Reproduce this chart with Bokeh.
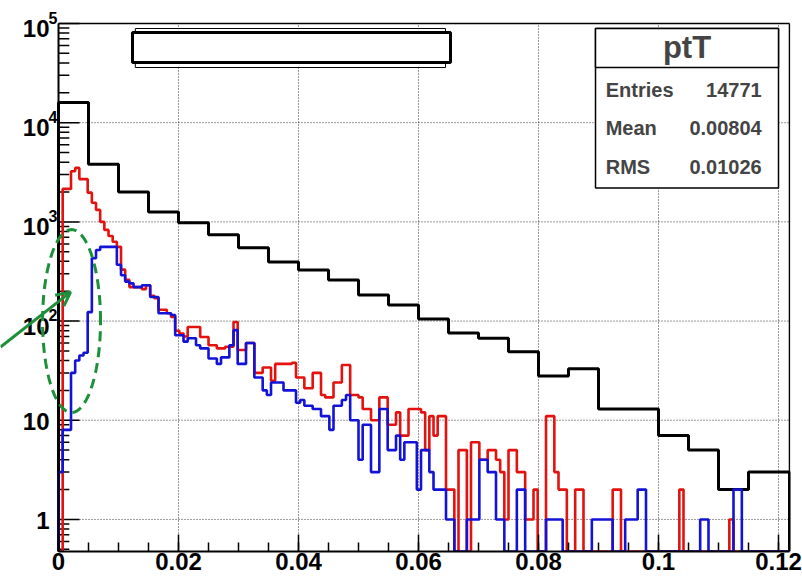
import numpy as np
from bokeh.plotting import figure
from bokeh.models import (BoxAnnotation, Label, Arrow, OpenHead, FixedTicker, Range1d)
from bokeh.core.properties import value
from bokeh.embed import file_html
from bokeh.resources import INLINE

# ---------------- data ----------------
BLACK_BIN = 0.005
black_counts = [16000, 3800, 2000, 1260, 980, 740, 550, 394, 327, 259, 183, 145, 105,
                76, 67, 49, 28, 33, 13, 13, 7, 5, 2, 3, 3]

FINE_BIN = 0.125 / 180
red_counts = [
    0, 2150, 2150, 3240, 3500, 2700, 2700, 1970, 1560, 1320,
    1000, 830, 720, 630, 560, 330, 260, 220, 220, 220,
    210, 230, 180, 170, 130, 130, 120, 110, 80, 75,
    70, 87, 87, 87, 69, 69, 57, 57, 53, 53,
    55, 55, 98, 51, 51, 60, 60, 30, 30, 34,
    34, 25, 37, 37, 37, 37, 38, 27, 27, 21,
    21, 30, 30, 18, 17, 17, 24, 24, 36, 36,
    18, 18, 17, 13, 13, 10, 10, 17, 17, 9,
    9, 12, 7, 7, 13, 13, 13, 12, 5, 11,
    7, 11, 11, 2, 2, 0, 5, 5, 0, 6,
    6, 4, 4, 5, 5, 4, 3, 1, 5, 5,
    3, 3, 1, 1, 2, 0, 0, 11, 11, 3,
    2, 2, 0, 0, 2, 2, 0, 0, 0, 0,
    0, 0, 0, 2, 2, 0, 0, 0, 0, 0,
    0, 0, 0, 0, 0, 0, 0, 0, 0, 2,
    0, 0, 0, 0, 0, 0, 0, 0, 0, 0,
    0, 1, 0, 0, 0, 0, 0, 0, 0, 0,
    0, 0, 0, 0, 0, 0,
]
blue_counts = [
    3, 8, 8, 30, 40, 45, 48, 123, 430, 520,
    560, 560, 560, 560, 370, 290, 250, 240, 220, 220,
    230, 230, 175, 175, 120, 120, 120, 115, 72, 72,
    62, 67, 67, 57, 53, 53, 42, 42, 37, 43,
    43, 57, 81, 37, 37, 60, 60, 27, 27, 20,
    18, 24, 24, 24, 20, 20, 20, 15, 16, 14,
    14, 13, 13, 11, 11, 8, 14, 14, 16, 18,
    10, 10, 4, 9, 9, 3, 3, 13, 13, 5,
    5, 7, 4, 6, 6, 6, 2, 5, 5, 3,
    2, 2, 2, 1, 1, 0, 0, 0, 1, 1,
    1, 4, 4, 3, 3, 1, 1, 0, 0, 0,
    2, 2, 0, 0, 0, 0, 0, 1, 1, 1,
    1, 0, 0, 0, 0, 0, 0, 0, 1, 1,
    1, 1, 1, 0, 0, 0, 1, 1, 1, 2,
    2, 0, 0, 0, 0, 0, 0, 0, 0, 0,
    0, 0, 0, 0, 1, 1, 0, 0, 0, 0,
    0, 0, 2, 2, 0, 0, 0, 0, 0, 0,
    0, 0, 0, 0, 0, 0,
]

X_TICKS = [0, 0.02, 0.04, 0.06, 0.08, 0.1, 0.12]
X_TICK_LABELS = ["0", "0.02", "0.04", "0.06", "0.08", "0.1", "0.12"]
Y_TICKS = [1, 10, 100, 1000, 10000, 100000]
Y_TICK_BASES = ["1", "10", "10", "10", "10", "10"]
Y_TICK_EXPONENTS = ["", "", "2", "3", "4", "5"]

STATS_TITLE = "ptT"
STATS_NAMES = ["Entries", "Mean", "RMS"]
STATS_VALUES = ["14771", "0.00804", "0.01026"]

# axis frame (data space) and the full view (the view also covers the label gutter)
AX_X0, AX_X1 = 0.0, 0.12183
AX_Y0, AX_Y1 = 0.475, 1e5
VIEW_X = (-0.00967, 0.1220)
VIEW_Y = (0.475, 170600)
Y_MAJOR_LEN, Y_MINOR_LEN = 0.0035, 0.0018

FONT = "Liberation Sans"
GREEN = "#1c9038"
RED = "#e3120f"
BLUE = "#1313d8"

# ---------------- figure ----------------
p = figure(width=802, height=577, output_backend="svg", toolbar_location=None,
           title=None, y_axis_type="log", y_axis_location=None,
           x_range=Range1d(*VIEW_X), y_range=Range1d(*VIEW_Y),
           min_border_left=0, min_border_right=12, min_border_top=0, min_border_bottom=26)
p.background_fill_color = "white"
p.border_fill_color = "white"
p.outline_line_color = None
p.xgrid.visible = False
p.ygrid.visible = False

# x axis (built in, limited to the axis frame)
xa = p.xaxis[0]
xa.bounds = (AX_X0, AX_X1)
xa.ticker = FixedTicker(ticks=X_TICKS,
                        minor_ticks=list(np.round(np.arange(0, 0.1251, 0.005), 4)))
xa.major_label_overrides = dict(zip(X_TICKS, X_TICK_LABELS))
xa.axis_line_color = "black"
xa.axis_line_width = 2
xa.major_tick_line_color = "black"
xa.minor_tick_line_color = "black"
xa.major_tick_line_width = 1.5
xa.minor_tick_line_width = 1.5
xa.major_tick_out = 0
xa.minor_tick_out = 0
xa.major_tick_in = 17
xa.minor_tick_in = 9
xa.major_label_text_font = FONT
xa.major_label_text_font_style = "bold"
xa.major_label_text_font_size = "24px"
xa.major_label_text_color = "black"
xa.major_label_standoff = 1

# dotted grid inside the axis frame
grid_x = [t for t in X_TICKS if AX_X0 < t <= AX_X1]
p.segment(x0=grid_x, y0=[AX_Y0] * len(grid_x), x1=grid_x, y1=[AX_Y1] * len(grid_x),
          line_color="black", line_dash="1 2", line_width=1, line_alpha=0.8)
grid_y = [t for t in Y_TICKS if t < AX_Y1]
p.segment(x0=[AX_X0] * len(grid_y), y0=grid_y, x1=[AX_X1] * len(grid_y), y1=grid_y,
          line_color="black", line_dash="1 2", line_width=1, line_alpha=0.8)

# log y axis drawn by hand (ticks point inwards, ROOT style)
minor_y = [m * 10.0 ** e for e in range(-1, 5) for m in range(2, 10)
           if AX_Y0 <= m * 10.0 ** e <= AX_Y1]
p.segment(x0=[AX_X0] * len(minor_y), y0=minor_y, x1=[AX_X0 + Y_MINOR_LEN] * len(minor_y),
          y1=minor_y, line_color="black", line_width=1.5)
p.segment(x0=[AX_X0] * len(Y_TICKS), y0=Y_TICKS, x1=[AX_X0 + Y_MAJOR_LEN] * len(Y_TICKS),
          y1=Y_TICKS, line_color="black", line_width=1.5)
has_exp = [e != "" for e in Y_TICK_EXPONENTS]
p.text(x=[AX_X0] * len(Y_TICKS), y=Y_TICKS, text=Y_TICK_BASES,
       x_offset=-9, y_offset=[5 if h else 1 for h in has_exp],
       text_align="right", text_baseline="middle", text_font=value(FONT),
       text_font_style="bold", text_font_size="24px", text_color="black")
exp_y = [y for y, h in zip(Y_TICKS, has_exp) if h]
exp_t = [e for e in Y_TICK_EXPONENTS if e]
p.text(x=[AX_X0] * len(exp_y), y=exp_y, text=exp_t, x_offset=-1, y_offset=-6,
       text_align="right", text_baseline="middle", text_font=value(FONT),
       text_font_style="bold", text_font_size="16px", text_color="black")


def step_path(counts, width, floor):
    c = np.asarray(counts, dtype=float)
    c = np.where(c > 0, c, floor)
    edges = np.arange(len(c) + 1) * width
    xs = [edges[0]]
    ys = [floor]
    for i, v in enumerate(c):
        xs += [edges[i], edges[i + 1]]
        ys += [v, v]
    xs.append(edges[-1])
    ys.append(floor)
    xs = np.minimum(xs, AX_X1)
    return list(xs), ys


bx, by = step_path(black_counts, BLACK_BIN, AX_Y0)
rx, ry = step_path(red_counts, FINE_BIN, AX_Y0)
ux, uy = step_path(blue_counts, FINE_BIN, AX_Y0)
p.line(bx, by, line_color="black", line_width=3)
p.line(rx, ry, line_color=RED, line_width=2.6)
p.line(ux, uy, line_color=BLUE, line_width=2.6)

# y axis line and frame top / right edges
p.segment(x0=[AX_X0, AX_X0, AX_X1], y0=[AX_Y0, AX_Y1, AX_Y0],
          x1=[AX_X0, AX_X1, AX_X1], y1=[AX_Y1, AX_Y1, AX_Y1],
          line_color="black", line_width=[2, 1.5, 1.5])

# empty title box (double frame)
p.add_layout(BoxAnnotation(left=0.0128, right=0.0645, top=89000, bottom=36000,
                           fill_color="white", fill_alpha=1, line_color="black",
                           line_width=1, line_alpha=1))
p.add_layout(BoxAnnotation(left=0.01233, right=0.06533, top=81100, bottom=40400,
                           fill_color="white", fill_alpha=1, line_color="black",
                           line_width=3, line_alpha=1))

# stats box
SB_L, SB_R, SB_T, SB_B, SB_SEP = 0.0895, 0.12, 89000, 2200, 36000
p.add_layout(BoxAnnotation(left=SB_L, right=SB_R, top=SB_T, bottom=SB_B,
                           fill_color="white", fill_alpha=1, line_color="black",
                           line_width=1.5, line_alpha=1))
p.add_layout(BoxAnnotation(left=SB_L, right=SB_R, top=SB_T, bottom=SB_SEP,
                           fill_color="white", fill_alpha=1, line_color="black",
                           line_width=1.5, line_alpha=1))
p.add_layout(Label(x=(SB_L + SB_R) / 2, y=57300, text=STATS_TITLE, text_font=FONT,
                   text_font_style="bold", text_font_size="31px",
                   text_align="center", text_baseline="middle"))
row_y = [21500, 8900, 3590]
for name, val, yy in zip(STATS_NAMES, STATS_VALUES, row_y):
    p.add_layout(Label(x=0.0912, y=yy, text=name, text_font=FONT, text_font_style="bold",
                       text_font_size="20px", text_align="left", text_baseline="middle"))
    p.add_layout(Label(x=0.1172, y=yy, text=val, text_font=FONT, text_font_style="bold",
                       text_font_size="20px", text_align="right", text_baseline="middle"))

# green dashed ellipse and arrow
E_CX, E_CY, E_A, E_B = 0.00217, 100.0, 0.00483, 0.922
t = np.linspace(0, 2 * np.pi, 181)
ex = E_CX + E_A * np.cos(t)
ey = 10 ** (np.log10(E_CY) + E_B * np.sin(t))
p.line(list(ex), list(ey), line_color=GREEN, line_width=3, line_dash="10 6")
p.add_layout(Arrow(end=OpenHead(size=14, line_color=GREEN, line_width=3),
                   x_start=VIEW_X[0], y_start=54.6, x_end=0.0020, y_end=196,
                   line_color=GREEN, line_width=3))

open("out.html", "w").write(file_html(p, INLINE))
